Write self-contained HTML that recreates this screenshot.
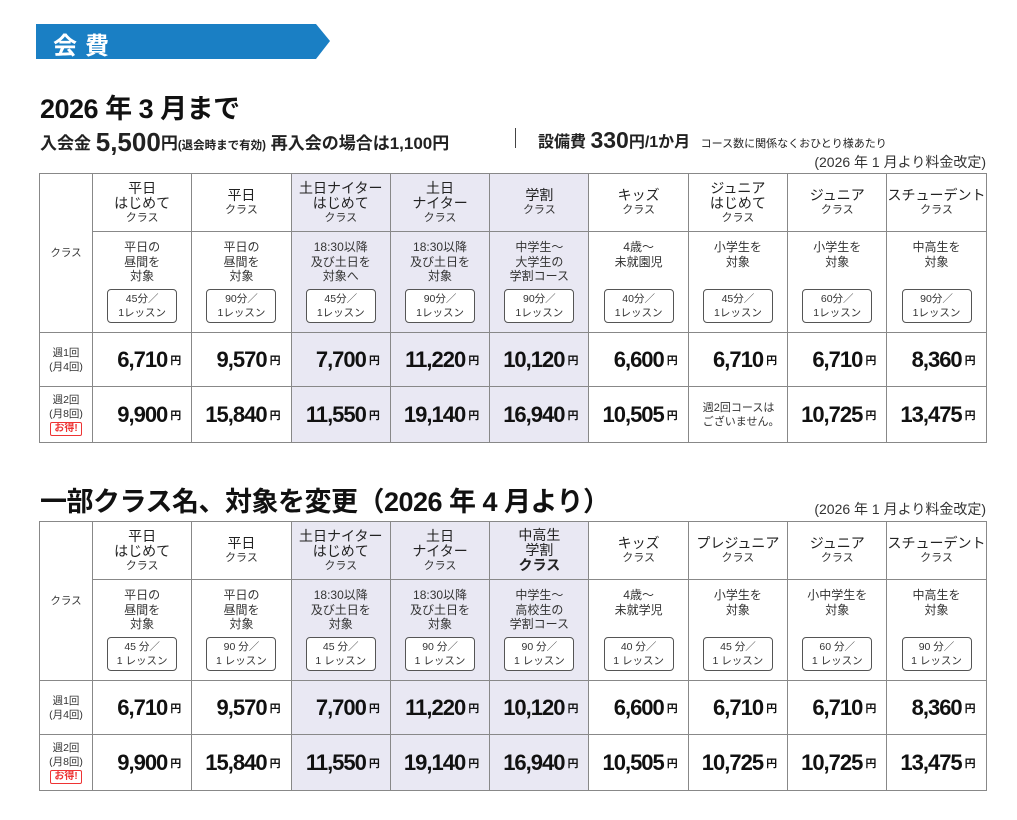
<!DOCTYPE html>
<html lang="ja"><head><meta charset="utf-8">
<style>
*{box-sizing:border-box;margin:0;padding:0}
body{width:1017px;height:820px;background:#fff;position:relative;overflow:hidden;font-family:"Liberation Sans","Noto Sans CJK JP",sans-serif;color:#222}
.abs{position:absolute;white-space:nowrap}
.banner{left:36px;top:24px;width:294px;height:35px;background:#1a7fc4;clip-path:polygon(0 0,280px 0,294px 17px,280px 35px,0 35px)}
.banner span{position:absolute;left:17px;top:2px;color:#fff;font-size:24px;font-weight:bold;letter-spacing:8px}
h2{position:absolute;font-size:27px;font-weight:bold;color:#111;white-space:nowrap;letter-spacing:-0.5px}
table{position:absolute;border-collapse:collapse;table-layout:fixed;border:1.5px solid #555}
td{border:1px solid #888;text-align:center;vertical-align:middle;padding:0}
.sh{background:#e9e8f3}
.hd{font-size:14px;line-height:15px;color:#222}
.hd small{font-size:11px;display:block;line-height:14px;color:#333}
.ds{font-size:12px;line-height:14.5px;color:#333;vertical-align:top;padding-top:8px}
.box{display:block;margin:4px auto 0;width:70px;height:34px;border:1.3px solid #555;border-radius:4px;font-size:10.5px;line-height:14px;padding-top:2px;background:#fff}
.pr{font-size:22px;font-weight:bold;letter-spacing:-1px;text-align:right;padding-right:10px;color:#111}
.pr i{font-style:normal;font-size:11px;letter-spacing:0;margin-left:3px;vertical-align:3px}
.lb{font-size:10.5px;line-height:14px;color:#333}
.otoku{display:inline-block;border:1px solid #e33;color:#e33;border-radius:2px;font-size:10px;line-height:12px;padding:0 3px;font-weight:bold}
.note{font-size:14px;color:#333;right:31px}
</style></head><body>
<div class="abs banner"><span>会費</span></div>
<h2 style="left:40px;top:87px">2026 年 3 月まで</h2>
<div class="abs" style="left:40px;top:127px;font-size:17px;font-weight:bold;color:#222">入会金 <span style="font-size:26px;vertical-align:-2px">5,500</span>円<span style="font-size:11.5px">(退会時まで有効)</span> 再入会の場合は1,100円</div>
<div class="abs" style="left:515px;top:128px;width:1px;height:20px;background:#444"></div>
<div class="abs" style="left:538px;top:127px;font-size:16px;font-weight:bold;color:#222">設備費 <span style="font-size:23px;vertical-align:-1px">330</span>円/1か月 <span style="font-size:11px;font-weight:normal;margin-left:6px">コース数に関係なくおひとり様あたり</span></div>
<div class="abs note" style="top:152px">(2026 年 1 月より料金改定)</div>
<h2 style="left:40px;top:480px">一部クラス名、対象を変更（2026 年 4 月より）</h2>
<div class="abs note" style="top:499px">(2026 年 1 月より料金改定)</div>

<script>
const names1=[["平日","はじめて","クラス"],["平日","","クラス"],["土日ナイター","はじめて","クラス"],["土日","ナイター","クラス"],["学割","","クラス"],["キッズ","","クラス"],["ジュニア","はじめて","クラス"],["ジュニア","","クラス"],["スチューデント","","クラス"]];
const names2=[["平日","はじめて","クラス"],["平日","","クラス"],["土日ナイター","はじめて","クラス"],["土日","ナイター","クラス"],["中高生","学割","クラスB"],["キッズ","","クラス"],["プレジュニア","","クラス"],["ジュニア","","クラス"],["スチューデント","","クラス"]];
const desc1=["平日の<br>昼間を<br>対象","平日の<br>昼間を<br>対象","18:30以降<br>及び土日を<br>対象へ","18:30以降<br>及び土日を<br>対象","中学生～<br>大学生の<br>学割コース","4歳～<br>未就園児","小学生を<br>対象","小学生を<br>対象","中高生を<br>対象"];
const desc2=["平日の<br>昼間を<br>対象","平日の<br>昼間を<br>対象","18:30以降<br>及び土日を<br>対象","18:30以降<br>及び土日を<br>対象","中学生～<br>高校生の<br>学割コース","4歳～<br>未就学児","小学生を<br>対象","小中学生を<br>対象","中高生を<br>対象"];
const mins=["45","90","45","90","90","40","45","60","90"];
const week1a=["6,710","9,570","7,700","11,220","10,120","6,600","6,710","6,710","8,360"];
const week2a=["9,900","15,840","11,550","19,140","16,940","10,505","","10,725","13,475"];
const week1b=["6,710","9,570","7,700","11,220","10,120","6,600","6,710","6,710","8,360"];
const week2b=["9,900","15,840","11,550","19,140","16,940","10,505","10,725","10,725","13,475"];
const shaded=[2,3,4];

function build(top,names,desc,w1,w2,sep,id){
  const t=document.createElement('table');
  
  
  t.style.left='39px';t.style.top=top+'px';t.style.width='947px';
  let cg='<colgroup><col style="width:53px">';
  for(let i=0;i<9;i++)cg+='<col style="width:99.3px">';
  cg+='</colgroup>';
  let h='<tr style="height:58px">';
  h+='<td rowspan="2" class="lb">クラス</td>';
  names.forEach((n,i)=>{
    const big=n[2]==='クラスB';
    h+='<td class="hd'+(shaded.includes(i)?' sh':'')+'">'+n[0]+(n[1]?'<br>'+n[1]:'')+(big?'<br><b style="font-size:14px">クラス</b>':'<small>クラス</small>')+'</td>';
  });
  h+='</tr><tr style="height:101px">';
  desc.forEach((d,i)=>{
    const sp=sep?' ':'';
    h+='<td class="ds'+(shaded.includes(i)?' sh':'')+'"><div style="height:45px">'+d+'</div><span class="box">'+mins[i]+sp+'分／<br>1'+sp+'レッスン</span></td>';
  });
  h+='</tr><tr style="height:54px"><td class="lb">週1回<br>(月4回)</td>';
  w1.forEach((v,i)=>{h+='<td class="pr'+(shaded.includes(i)?' sh':'')+'">'+v+'<i>円</i></td>';});
  h+='</tr><tr style="height:56px"><td class="lb">週2回<br>(月8回)<br><span class="otoku">お得!</span></td>';
  w2.forEach((v,i)=>{
    if(v==='') h+='<td class="lb" style="font-size:11px;text-align:left;padding-left:14px">週2回コースは<br>ございません。</td>';
    else h+='<td class="pr'+(shaded.includes(i)?' sh':'')+'">'+v+'<i>円</i></td>';
  });
  h+='</tr>';
  t.innerHTML=cg+h;
  document.body.appendChild(t);
}
build(173,names1,desc1,week1a,week2a,false,'fee-table-current');
build(521,names2,desc2,week1b,week2b,true,'fee-table-april');
</script>
</body></html>
